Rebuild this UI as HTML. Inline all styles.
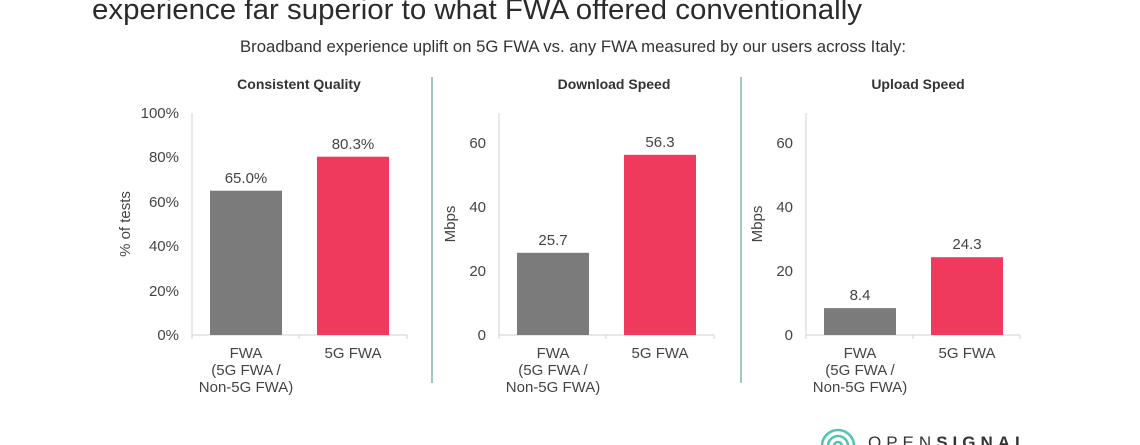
<!DOCTYPE html>
<html><head><meta charset="utf-8"><style>
html,body{margin:0;padding:0;background:#fff;}
svg{display:block;font-family:"Liberation Sans",sans-serif;}
</style></head><body>
<svg width="1140" height="445" viewBox="0 0 1140 445" xmlns="http://www.w3.org/2000/svg">
<rect width="1140" height="445" fill="#fff"/>
<text x="92" y="19" font-size="29" fill="#2b2b2b" textLength="770" lengthAdjust="spacingAndGlyphs">experience far superior to what FWA offered conventionally</text>
<text x="573" y="52" font-size="17" fill="#333" text-anchor="middle" textLength="666" lengthAdjust="spacingAndGlyphs">Broadband experience uplift on 5G FWA vs. any FWA measured by our users across Italy:</text>
<g font-size="14" font-weight="bold" fill="#333" text-anchor="middle">
<text x="299" y="89">Consistent Quality</text>
<text x="614" y="89">Download Speed</text>
<text x="918" y="89">Upload Speed</text>
</g>
<line x1="432" y1="77" x2="432" y2="383" stroke="#7fb5ad" stroke-width="1.5"/>
<line x1="741" y1="77" x2="741" y2="383" stroke="#7fb5ad" stroke-width="1.5"/>

<g stroke="#d0d0d0" stroke-width="1">
<line x1="192" y1="113" x2="192" y2="335"/><line x1="192" y1="335" x2="407" y2="335"/><line x1="299" y1="335" x2="299" y2="339"/><line x1="192" y1="335" x2="192" y2="339"/><line x1="407" y1="335" x2="407" y2="339"/>
<line x1="499" y1="113" x2="499" y2="335"/><line x1="499" y1="335" x2="714" y2="335"/><line x1="606" y1="335" x2="606" y2="339"/><line x1="499" y1="335" x2="499" y2="339"/><line x1="714" y1="335" x2="714" y2="339"/>
<line x1="806" y1="113" x2="806" y2="335"/><line x1="806" y1="335" x2="1020" y2="335"/><line x1="913" y1="335" x2="913" y2="339"/><line x1="806" y1="335" x2="806" y2="339"/><line x1="1020" y1="335" x2="1020" y2="339"/>
</g>

<g font-size="15" fill="#444" text-anchor="end">
<text x="179" y="340">0%</text><text x="179" y="296">20%</text><text x="179" y="251">40%</text><text x="179" y="207">60%</text><text x="179" y="162">80%</text><text x="179" y="118">100%</text>
<text x="486" y="340">0</text><text x="486" y="276">20</text><text x="486" y="212">40</text><text x="486" y="148">60</text>
<text x="793" y="340">0</text><text x="793" y="276">20</text><text x="793" y="212">40</text><text x="793" y="148">60</text>
</g>
<g font-size="15" fill="#444" text-anchor="middle">
<text transform="translate(130,224) rotate(-90)">% of tests</text>
<text transform="translate(455,224) rotate(-90)">Mbps</text>
<text transform="translate(762,224) rotate(-90)">Mbps</text>
</g>

<rect x="210" y="190.7" width="72" height="144.3" fill="#7b7b7b"/>
<rect x="317" y="156.7" width="72" height="178.3" fill="#ef3a5d"/>
<rect x="517" y="252.8" width="72" height="82.2" fill="#7b7b7b"/>
<rect x="624" y="154.8" width="72" height="180.2" fill="#ef3a5d"/>
<rect x="824" y="308.1" width="72" height="26.9" fill="#7b7b7b"/>
<rect x="931" y="257.2" width="72" height="77.8" fill="#ef3a5d"/>

<g font-size="15" fill="#444" text-anchor="middle">
<text x="246" y="183">65.0%</text><text x="353" y="149">80.3%</text>
<text x="553" y="245">25.7</text><text x="660" y="147">56.3</text>
<text x="860" y="300">8.4</text><text x="967" y="249">24.3</text>
<text x="246" y="358">FWA</text><text x="246" y="375">(5G FWA /</text><text x="246" y="392">Non-5G FWA)</text><text x="353" y="358">5G FWA</text>
<text x="553" y="358">FWA</text><text x="553" y="375">(5G FWA /</text><text x="553" y="392">Non-5G FWA)</text><text x="660" y="358">5G FWA</text>
<text x="860" y="358">FWA</text><text x="860" y="375">(5G FWA /</text><text x="860" y="392">Non-5G FWA)</text><text x="967" y="358">5G FWA</text>
</g>

<g fill="none" stroke="#4fc3b4" stroke-width="2.5">
<circle cx="838" cy="446" r="16"/><circle cx="838" cy="446" r="10"/><circle cx="838" cy="446" r="4"/>
</g>
<text x="868" y="448" font-size="17" fill="#333" letter-spacing="5">OPEN<tspan font-weight="bold">SIGNAL</tspan></text>
</svg>
</body></html>
